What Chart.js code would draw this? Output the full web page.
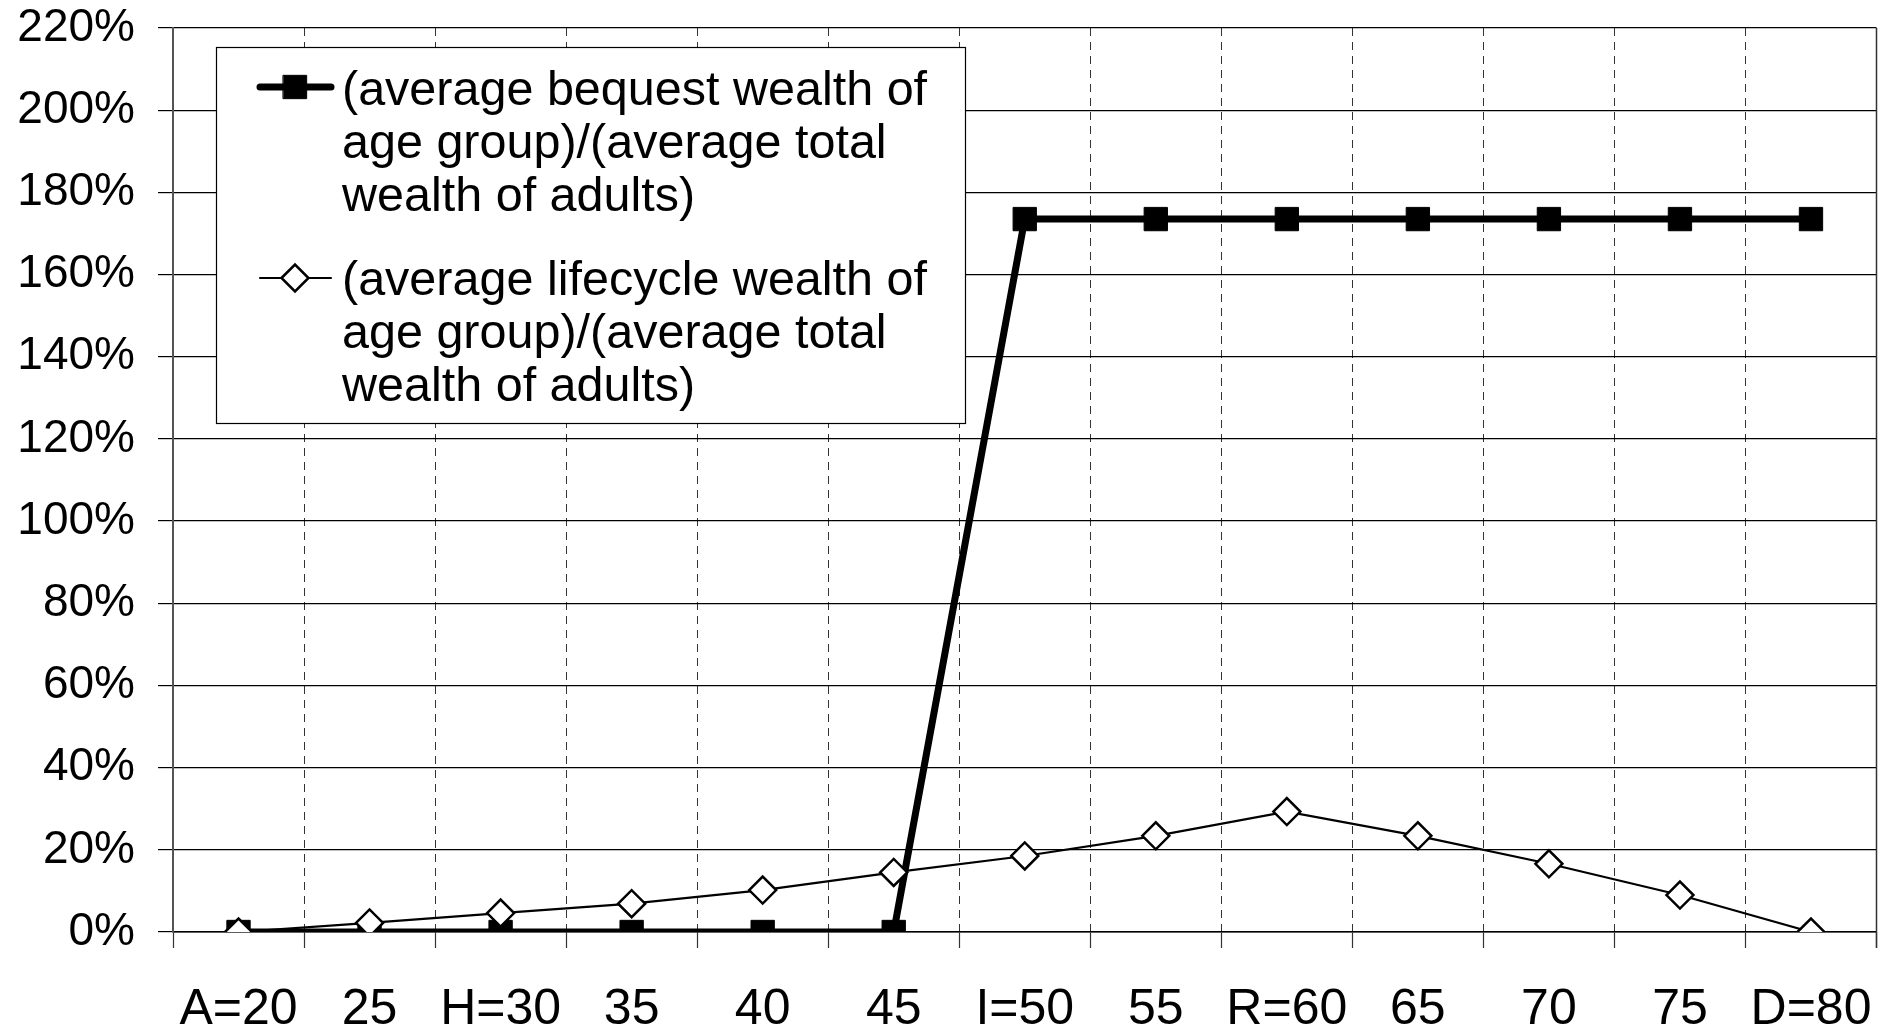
<!DOCTYPE html>
<html>

<head>
    <title>Bequest and lifecycle wealth by age group</title>
    <script src="https://cdn.jsdelivr.net/npm/chart.js@4.4.1/dist/chart.umd.min.js"></script>
    <style>
        body { margin: 0; background: #fff; }
        #wrap { position: relative; width: 1894px; height: 1031px; }
    </style>
</head>

<body>
    <div id="wrap"><canvas id="myChart"></canvas></div>

    <script>
        // Age groups on the x axis
        var ageLabels = ['A=20', '25', 'H=30', '35', '40', '45', 'I=50', '55', 'R=60', '65', '70', '75', 'D=80'];

        // Values in % of average total wealth of adults
        var bequestWealth = [0, 0, 0, 0, 0, 0, 173.5, 173.5, 173.5, 173.5, 173.5, 173.5, 173.5];
        var lifecycleWealth = [0, 2.2, 4.6, 6.9, 10.2, 14.5, 18.5, 23.4, 29.3, 23.4, 16.6, 9.0, 0];

        // y axis range
        var yMin = 0;
        var yMax = 220;
        var yStep = 20;

        // Legend text, broken as in the original
        var bequestLegend = ['(average bequest wealth of', 'age group)/(average total', 'wealth of adults)'];
        var lifecycleLegend = ['(average lifecycle wealth of', 'age group)/(average total', 'wealth of adults)'];

        var fontFamily = '"Liberation Sans", Arial, sans-serif';
        Chart.defaults.font.family = fontFamily;
        Chart.defaults.color = '#000';

        // Solid right edge of the plot frame
        var frameRight = {
            id: 'frameRight',
            beforeDatasetsDraw: function (chart) {
                var a = chart.chartArea;
                var ctx = chart.ctx;
                ctx.save();
                ctx.strokeStyle = '#333';
                ctx.lineWidth = 1.5;
                ctx.beginPath();
                ctx.moveTo(a.right, a.top);
                ctx.lineTo(a.right, a.bottom + 16);
                ctx.stroke();
                ctx.restore();
            }
        };

        // Boxed legend inside the plot, each entry on three lines
        var legendBox = {
            id: 'legendBox',
            beforeDatasetsDraw: function (chart) {
                var ctx = chart.ctx;
                var ds = chart.data.datasets;
                ctx.save();
                ctx.fillStyle = '#fff';
                ctx.fillRect(216, 47, 749, 376);
                ctx.strokeStyle = '#000';
                ctx.lineWidth = 1.2;
                ctx.strokeRect(216.5, 47.5, 749, 376);

                var entries = [
                    { d: ds[0], lines: bequestLegend, symY: 87, base: 105 },
                    { d: ds[1], lines: lifecycleLegend, symY: 278, base: 295 }
                ];
                entries.forEach(function (e) {
                    // line sample
                    ctx.strokeStyle = e.d.borderColor;
                    ctx.lineWidth = e.d.borderWidth;
                    ctx.lineCap = 'round';
                    ctx.beginPath();
                    ctx.moveTo(260, e.symY);
                    ctx.lineTo(331, e.symY);
                    ctx.stroke();
                    // marker
                    ctx.fillStyle = e.d.pointBackgroundColor;
                    ctx.strokeStyle = e.d.pointBorderColor;
                    ctx.lineWidth = e.d.pointBorderWidth;
                    Chart.helpers.drawPoint(ctx, {
                        pointStyle: e.d.pointStyle,
                        radius: e.d.pointRadius,
                        borderWidth: e.d.pointBorderWidth,
                        rotation: 0
                    }, 295, e.symY);
                    // text
                    ctx.fillStyle = '#000';
                    ctx.font = '48.5px ' + fontFamily;
                    ctx.textAlign = 'left';
                    ctx.textBaseline = 'alphabetic';
                    e.lines.forEach(function (t, i) {
                        ctx.fillText(t, 342, e.base + i * 53);
                    });
                });
                ctx.restore();
            }
        };

        var ctx = document.getElementById('myChart');

        new Chart(ctx, {
            type: 'line',
            data: {
                labels: ageLabels,
                datasets: [{
                    label: bequestLegend.join(' '),
                    data: bequestWealth,
                    borderColor: '#000',
                    backgroundColor: '#000',
                    borderWidth: 7,
                    pointStyle: 'rect',
                    pointRadius: 16.5,
                    pointBackgroundColor: '#000',
                    pointBorderColor: '#000',
                    pointBorderWidth: 1,
                    tension: 0,
                    order: 2
                }, {
                    label: lifecycleLegend.join(' '),
                    data: lifecycleWealth,
                    borderColor: '#000',
                    backgroundColor: '#fff',
                    borderWidth: 2.2,
                    pointStyle: 'rectRot',
                    pointRadius: 13.5,
                    pointBackgroundColor: '#fff',
                    pointBorderColor: '#000',
                    pointBorderWidth: 2.5,
                    tension: 0,
                    order: 1
                }]
            },
            options: {
                responsive: true,
                maintainAspectRatio: false,
                animation: false,
                layout: {
                    padding: { top: 28, right: 14, left: 0, bottom: 0 }
                },
                plugins: {
                    legend: { display: false },
                    tooltip: { enabled: false }
                },
                scales: {
                    x: {
                        offset: true,
                        grid: {
                            offset: true,
                            color: '#333',
                            lineWidth: 1,
                            tickBorderDash: [],
                            tickColor: '#333',
                            tickLength: 16,
                            tickWidth: 1.2
                        },
                        // in v4 the grid line dash comes from border.dash
                        border: { display: true, color: '#000', width: 1.5, dash: [8, 6] },
                        ticks: {
                            autoSkip: false,
                            maxRotation: 0,
                            padding: 32,
                            font: { size: 50 }
                        },
                        afterFit: function (scale) {
                            scale.height = 99;
                            scale.paddingLeft = 0;
                            scale.paddingRight = 0;
                        }
                    },
                    y: {
                        min: yMin,
                        max: yMax,
                        grid: {
                            color: '#000',
                            lineWidth: 1.2,
                            tickLength: 15
                        },
                        border: { display: true, color: '#555', width: 2 },
                        ticks: {
                            stepSize: yStep,
                            padding: 23,
                            font: { size: 46 },
                            callback: function (v) { return v + '%'; }
                        },
                        afterFit: function (scale) {
                            scale.width = 173;
                            // top label may sit in the layout padding
                            scale.paddingTop = 0;
                            scale.paddingBottom = 0;
                        }
                    }
                }
            },
            plugins: [frameRight, legendBox]
        });
    </script>
</body>

</html>
